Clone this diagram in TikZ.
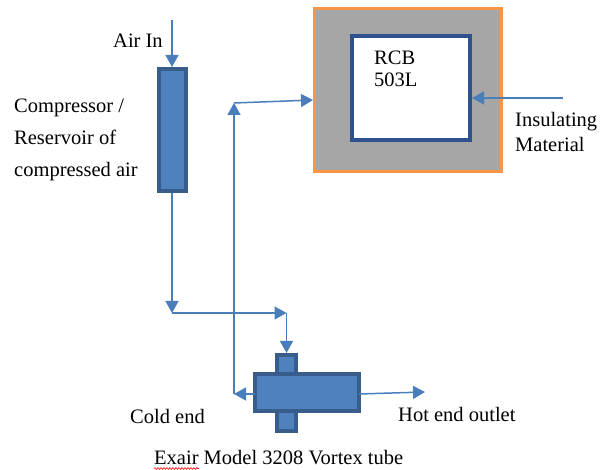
\documentclass[tikz,border=0pt]{standalone}
\usepackage{fontspec}
\setmainfont{Liberation Serif}
\usetikzlibrary{arrows.meta,decorations.pathmorphing}
\definecolor{boxfill}{HTML}{4F81BD}
\definecolor{boxline}{HTML}{385D8A}
\definecolor{flow}{HTML}{4A7EBB}
\definecolor{insul}{HTML}{A6A6A6}
\definecolor{orangeb}{HTML}{F79646}
\definecolor{innerb}{HTML}{2F528F}
\begin{document}
\begin{tikzpicture}[x=1pt,y=-1pt,
  blockbox/.style={draw=boxline,fill=boxfill,line width=4pt,inner sep=0pt,rectangle},
  flowarrow/.style={draw=flow,line width=1.5pt,-{Triangle[length=12pt,width=13pt]}},
  lbl/.style={anchor=base west,inner sep=0pt,font=\rmfamily\fontsize{20.5}{24}\selectfont}]
\useasboundingbox (0,0) rectangle (606,470);
% insulating box
\node[draw=orangeb,fill=insul,line width=3pt,inner sep=0pt,minimum width=187pt,minimum height=163pt] (ins) at (408,90) {};
\node[draw=innerb,fill=white,line width=4pt,inner sep=0pt,minimum width=118pt,minimum height=104pt] (rcb) at (411,88) {};
% compressor
\node[blockbox,minimum width=27pt,minimum height=122pt] (comp) at (172,130) {};
% vortex tube
\node[blockbox,minimum width=19pt,minimum height=23pt] (stubtop) at (286.5,366.5) {};
\node[blockbox,minimum width=19pt,minimum height=24pt] (stubbot) at (286.5,419) {};
\node[blockbox,minimum width=104pt,minimum height=37pt] (tube) at (307,392.5) {};
% coordinates
\coordinate (airtop) at (172,20);
\coordinate (j1) at (172,313);
\coordinate (j2) at (286.5,313);
\coordinate (c1) at (234,394);
\coordinate (c2) at (234,103);
\coordinate (c3) at (313,100);
\coordinate (h1) at (425,392);
\coordinate (ins1) at (563,98);
\coordinate (rcb1) at (472,98);
\coordinate (tubeW) at (255,394);
\coordinate (tubeE) at (359,394);
% arrows
\draw[flowarrow] (airtop) -- (comp.north);
\draw[flowarrow] (comp.south) -- (j1);
\draw[flowarrow] (j1) -- (j2);
\draw[flowarrow] (j2) -- (stubtop.north);
\draw[flowarrow] (tubeW) -- (c1);
\draw[flowarrow] (c1) -- (c2);
\draw[flowarrow] (c2) -- (c3);
\draw[flowarrow] (tubeE) -- (h1);
\draw[flowarrow] (ins1) -- (rcb1);
% labels
\node[lbl] (airin) at (113,48) {Air In};
\node[lbl] (cl1) at (14,113) {Compressor /};
\node[lbl] (cl2) at (14,145) {Reservoir of};
\node[lbl] (cl3) at (14,177) {compressed air};
\node[lbl] (rcbt1) at (374,65) {RCB};
\node[lbl] (rcbt2) at (374,87) {503L};
\node[lbl] (il1) at (515,127) {Insulating};
\node[lbl] (il2) at (515,152) {Material};
\node[lbl] (cold) at (130,424) {Cold end};
\node[lbl] (hot) at (398,422) {Hot end outlet};
\node[lbl] (title) at (154,465) {Exair Model 3208 Vortex tube};
\coordinate (sq1) at (154,468.5);
\coordinate (sq2) at (199,468.5);
\draw[red,line width=0.6pt,decorate,decoration={snake,amplitude=0.9pt,segment length=3pt}] (sq1) -- (sq2);
\end{tikzpicture}
\end{document}
